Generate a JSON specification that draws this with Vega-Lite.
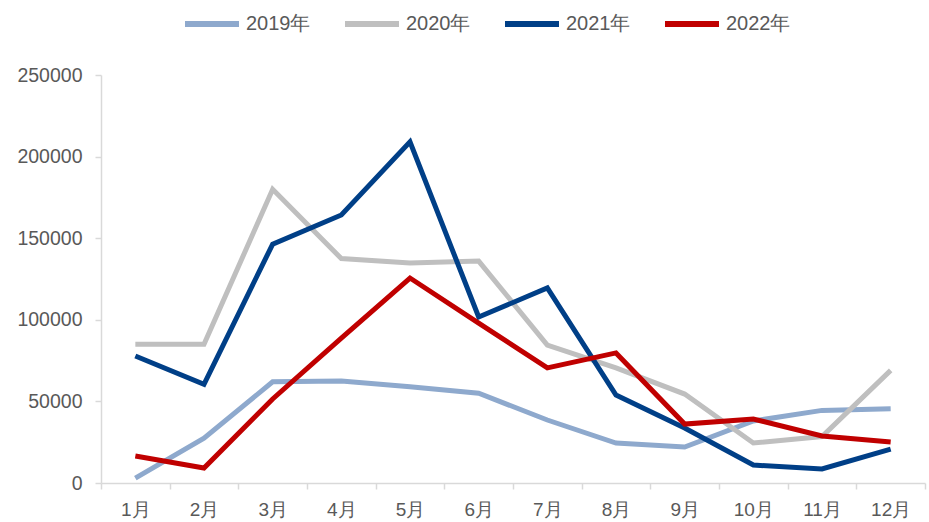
{
  "$schema": "https://vega.github.io/schema/vega-lite/v6.json",
  "width": 824,
  "height": 408,
  "autosize": {"type": "none"},
  "padding": {"left": 101, "top": 75, "right": 4, "bottom": 39},
  "background": "white",
  "config": {"view": {"stroke": null}, "font": "Liberation Sans"},
  "data": {"values": [
    {"m": "1月", "s": "2019年", "v": 3000}, {"m": "2月", "s": "2019年", "v": 27500}, {"m": "3月", "s": "2019年", "v": 62000}, {"m": "4月", "s": "2019年", "v": 62500}, {"m": "5月", "s": "2019年", "v": 59000}, {"m": "6月", "s": "2019年", "v": 55000}, {"m": "7月", "s": "2019年", "v": 38600}, {"m": "8月", "s": "2019年", "v": 24500}, {"m": "9月", "s": "2019年", "v": 22000}, {"m": "10月", "s": "2019年", "v": 38000}, {"m": "11月", "s": "2019年", "v": 44500}, {"m": "12月", "s": "2019年", "v": 45500},
    {"m": "1月", "s": "2020年", "v": 85000}, {"m": "2月", "s": "2020年", "v": 85000}, {"m": "3月", "s": "2020年", "v": 180000}, {"m": "4月", "s": "2020年", "v": 137500}, {"m": "5月", "s": "2020年", "v": 134800}, {"m": "6月", "s": "2020年", "v": 136000}, {"m": "7月", "s": "2020年", "v": 84500}, {"m": "8月", "s": "2020年", "v": 70500}, {"m": "9月", "s": "2020年", "v": 54500}, {"m": "10月", "s": "2020年", "v": 24500}, {"m": "11月", "s": "2020年", "v": 28500}, {"m": "12月", "s": "2020年", "v": 69000},
    {"m": "1月", "s": "2021年", "v": 77800}, {"m": "2月", "s": "2021年", "v": 60500}, {"m": "3月", "s": "2021年", "v": 146400}, {"m": "4月", "s": "2021年", "v": 164200}, {"m": "5月", "s": "2021年", "v": 209000}, {"m": "6月", "s": "2021年", "v": 101700}, {"m": "7月", "s": "2021年", "v": 119500}, {"m": "8月", "s": "2021年", "v": 53900}, {"m": "9月", "s": "2021年", "v": 33700}, {"m": "10月", "s": "2021年", "v": 11000}, {"m": "11月", "s": "2021年", "v": 8600}, {"m": "12月", "s": "2021年", "v": 20800},
    {"m": "1月", "s": "2022年", "v": 16500}, {"m": "2月", "s": "2022年", "v": 9200}, {"m": "3月", "s": "2022年", "v": 51500}, {"m": "4月", "s": "2022年", "v": 88800}, {"m": "5月", "s": "2022年", "v": 125600}, {"m": "6月", "s": "2022年", "v": 98000}, {"m": "7月", "s": "2022年", "v": 70500}, {"m": "8月", "s": "2022年", "v": 79700}, {"m": "9月", "s": "2022年", "v": 36100}, {"m": "10月", "s": "2022年", "v": 39200}, {"m": "11月", "s": "2022年", "v": 28800}, {"m": "12月", "s": "2022年", "v": 25100}
  ]},
  "mark": {"type": "line", "strokeWidth": 5, "strokeJoin": "miter"},
  "encoding": {
    "x": {
      "field": "m", "type": "ordinal", "sort": null, "bandPosition": 0.5,
      "scale": {"type": "band", "paddingInner": 0, "paddingOuter": 0},
      "axis": {"title": null, "labelAngle": 0, "domainColor": "#D9D9D9", "domainWidth": 1.5, "tickColor": "#D9D9D9", "tickWidth": 1.5, "tickSize": 6, "tickBand": "extent", "labelFont": "Liberation Sans", "labelFontSize": 19, "labelColor": "#595959", "labelPadding": 11, "grid": false}
    },
    "y": {
      "field": "v", "type": "quantitative",
      "scale": {"domain": [0, 250000], "nice": false},
      "axis": {"title": null, "values": [0, 50000, 100000, 150000, 200000, 250000], "format": "d", "domainColor": "#D9D9D9", "domainWidth": 1.5, "tickColor": "#D9D9D9", "tickWidth": 1.5, "tickSize": 6, "labelFont": "Liberation Sans", "labelFontSize": 19.5, "labelColor": "#595959", "labelPadding": 13, "grid": false}
    },
    "color": {
      "field": "s", "type": "nominal",
      "scale": {"domain": ["2019年", "2020年", "2021年", "2022年"], "range": ["#8EA9CD", "#BFBFBF", "#003F87", "#C00000"]},
      "legend": {"title": null, "orient": "none", "direction": "horizontal", "legendX": 81, "legendY": -81, "symbolType": "stroke", "symbolStrokeWidth": 6, "symbolSize": 2916, "labelFont": "Liberation Sans", "labelFontSize": 20, "labelColor": "#595959", "labelOffset": 4, "columnPadding": 22}
    }
  }
}
